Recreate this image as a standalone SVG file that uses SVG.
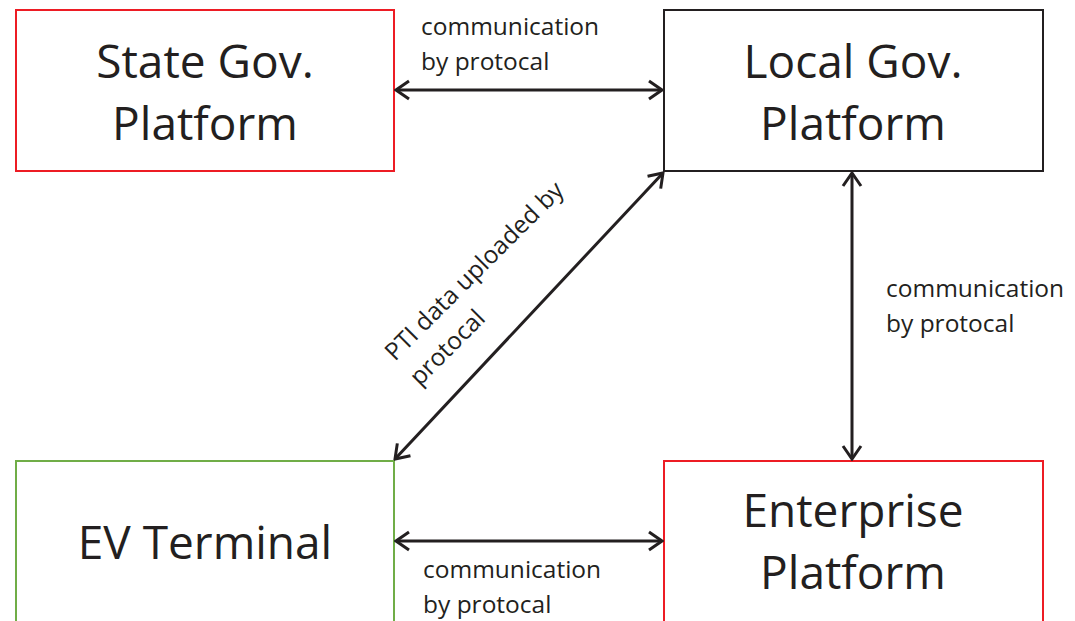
<svg xmlns="http://www.w3.org/2000/svg" width="1075" height="621" viewBox="0 0 1075 621">
<style>
.box{fill:#fff;stroke-width:2}
.red{stroke:#ed1c24}
.blk{stroke:#231f20}
.grn{stroke:#70ad47}
.nt{font-family:"Open Sans","Noto Sans",sans-serif;font-size:46px;fill:#231f20;text-anchor:middle}
.lb{font-family:"Open Sans","Noto Sans",sans-serif;font-size:24.5px;fill:#231f20}
.ar{stroke:#231f20;stroke-width:3;fill:none;marker-start:url(#ah);marker-end:url(#ah)}
</style>
<defs>
<marker id="ah" markerUnits="userSpaceOnUse" viewBox="-16 -11 18 22" refX="0" refY="0" markerWidth="18" markerHeight="22" orient="auto-start-reverse">
<path d="M-13,-9 L0,0 L-13,9" fill="none" stroke="#231f20" stroke-width="3"/>
</marker>
</defs>
<rect width="1075" height="621" fill="#fff"/>
<g id="state-gov">
<rect class="box red" x="16" y="10" width="378" height="161"/>
<text class="nt" x="205" y="78">State Gov.</text>
<text class="nt" x="205" y="140">Platform</text>
</g>
<g id="local-gov">
<rect class="box blk" x="664" y="10" width="379" height="161"/>
<text class="nt" x="853" y="78">Local Gov.</text>
<text class="nt" x="853" y="140">Platform</text>
</g>
<g id="ev-terminal">
<rect class="box grn" x="16" y="461" width="378" height="180"/>
<text class="nt" x="205" y="559">EV Terminal</text>
</g>
<g id="enterprise">
<rect class="box red" x="664" y="461" width="379" height="180"/>
<text class="nt" x="853" y="527">Enterprise</text>
<text class="nt" x="853" y="589">Platform</text>
</g>
<g id="connectors">
<line class="ar" x1="396" y1="90" x2="662" y2="90"/>
<line class="ar" x1="396" y1="541" x2="662" y2="541"/>
<line class="ar" x1="852" y1="173" x2="852" y2="459"/>
<line class="ar" x1="395" y1="459" x2="663" y2="173"/>
<text class="lb" x="421" y="35">communication</text>
<text class="lb" x="421" y="70">by protocal</text>
<text class="lb" x="423" y="578">communication</text>
<text class="lb" x="423" y="613">by protocal</text>
<text class="lb" x="886" y="297">communication</text>
<text class="lb" x="886" y="332">by protocal</text>
<text class="lb" transform="translate(395,362) rotate(-45)"><tspan x="0" y="0">PTI data uploaded by</tspan><tspan x="0" y="35">protocal</tspan></text>
</g>
</svg>
